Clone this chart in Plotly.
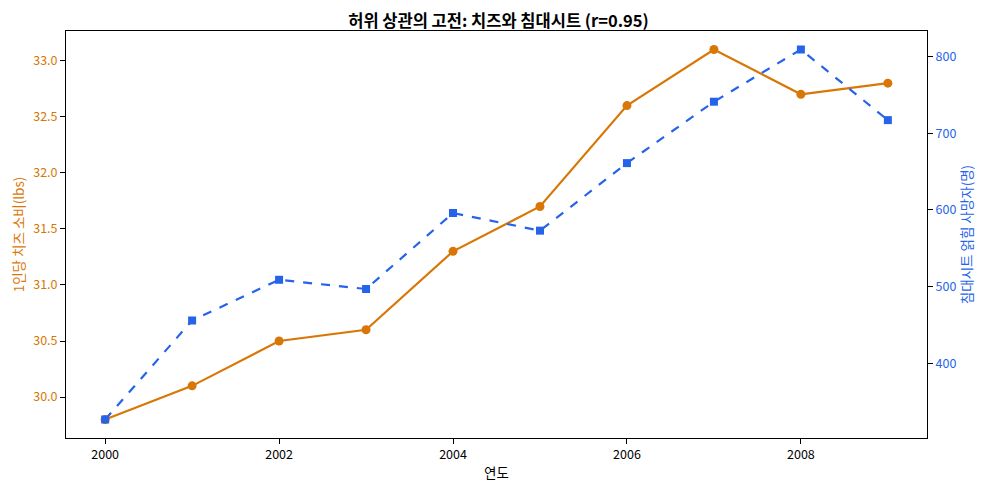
import plotly.graph_objects as go

years = [2000, 2001, 2002, 2003, 2004, 2005, 2006, 2007, 2008, 2009]
cheese = [29.8, 30.1, 30.5, 30.6, 31.3, 31.7, 32.6, 33.1, 32.7, 32.8]
bedsheet_deaths = [327, 456, 509, 497, 596, 573, 661, 741, 809, 717]

orange = '#d97706'
blue = '#2563eb'
font = 'Noto Sans CJK KR'

fig = go.Figure()

# 치즈 소비 (왼쪽 축)
fig.add_trace(go.Scatter(x=years, y=cheese, mode='lines+markers', name='치즈',
                         line=dict(color=orange, width=2.2),
                         marker=dict(symbol='circle', size=9, color=orange)))

# 침대시트 사망자 (오른쪽 축)
fig.add_trace(go.Scatter(x=years, y=bedsheet_deaths, mode='lines+markers', name='침대시트',
                         line=dict(color=blue, width=2.2, dash='dash'),
                         marker=dict(symbol='square', size=8, color=blue),
                         yaxis='y2'))

# page body has an 8px margin, so the figure is 8px smaller and shifted
fig.update_layout(
    title=dict(text='<b>허위 상관의 고전: 치즈와 침대시트 (r=0.95)</b>', x=0.5, xanchor='center',
               yref='paper', y=1.0, yanchor='bottom', pad=dict(b=4),
               font=dict(size=16.5, color='black', family=font)),
    font=dict(family=font, size=12.5, color='black'),
    width=981, height=481,
    margin=dict(l=58, r=62, t=23, b=51, autoexpand=False),
    plot_bgcolor='white', paper_bgcolor='white',
    showlegend=False,
    xaxis=dict(title=dict(text='연도', font=dict(size=13.5), standoff=6), automargin=False,
               range=[1999.55, 2009.45], tickvals=[2000, 2002, 2004, 2006, 2008],
               showgrid=False, zeroline=False, showline=True, linecolor='black', linewidth=1,
               mirror=True, ticks='outside', ticklen=5, tickcolor='black'),
    yaxis=dict(title=dict(text='1인당 치즈 소비(lbs)', font=dict(size=13.5, color=orange), standoff=10),
               automargin=False,
               range=[29.635, 33.265], tickvals=[30.0, 30.5, 31.0, 31.5, 32.0, 32.5, 33.0],
               tickformat='.1f', tickfont=dict(color=orange),
               showgrid=False, zeroline=False, showline=True, linecolor='black', linewidth=1,
               ticks='outside', ticklen=5, tickcolor='black'),
    yaxis2=dict(title=dict(text='침대시트 얽힘 사망자(명)', font=dict(size=13.5, color=blue), standoff=6),
                automargin=False,
                range=[302.9, 833.1], tickvals=[400, 500, 600, 700, 800],
                tickfont=dict(color=blue), overlaying='y', side='right',
                showgrid=False, zeroline=False, showline=True, linecolor='black', linewidth=1,
                ticks='outside', ticklen=5, tickcolor='black'),
)

fig.write_html("out.html")
